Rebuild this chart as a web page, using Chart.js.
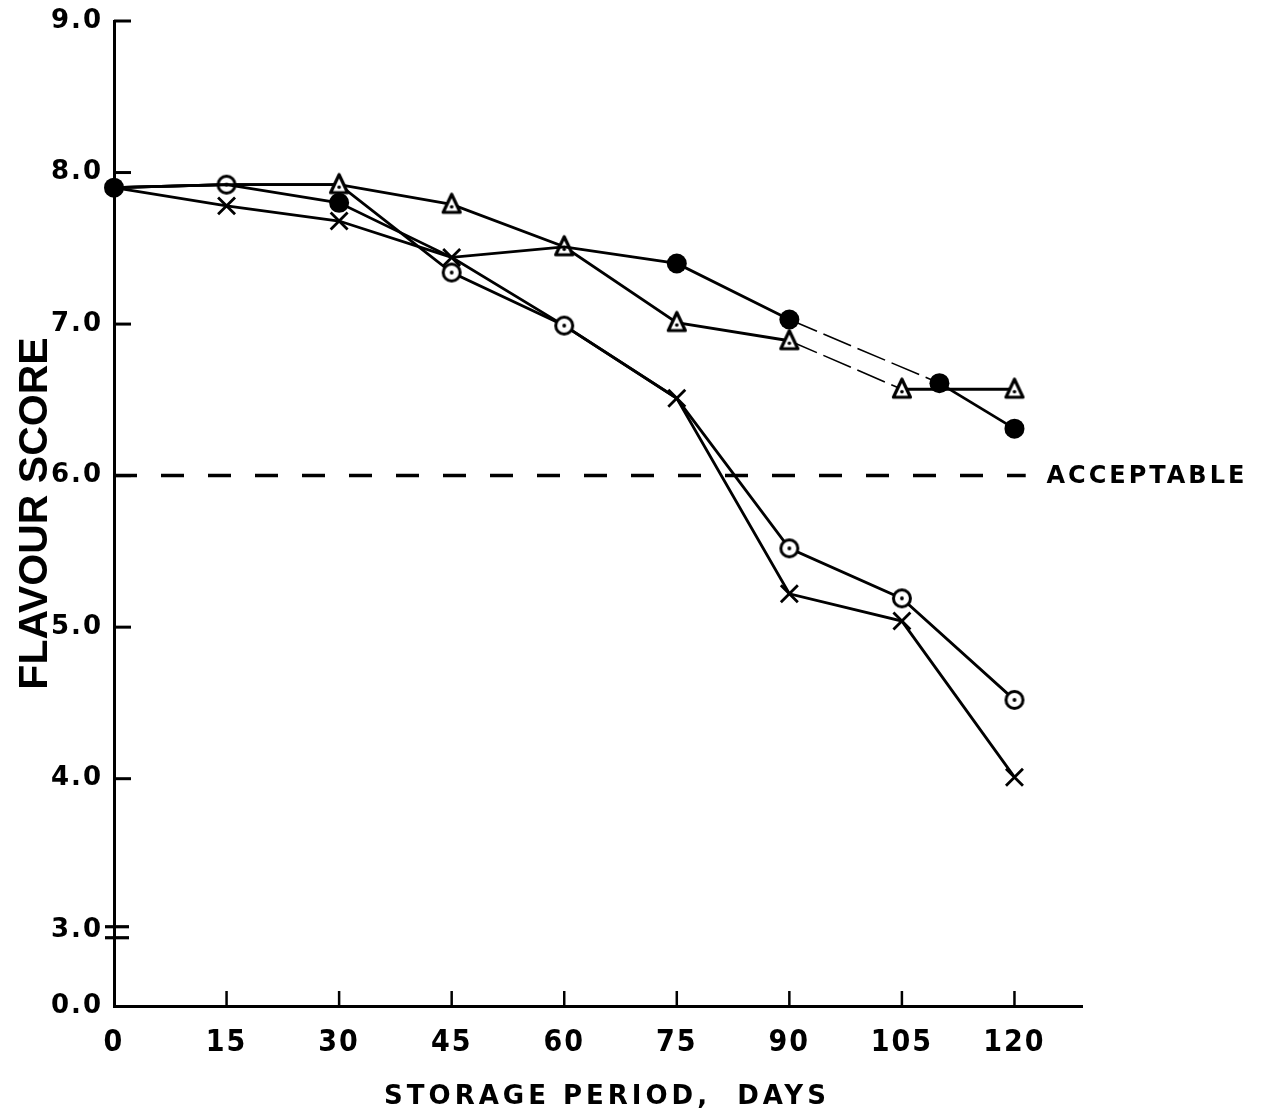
<!DOCTYPE html>
<html>
<head>
<meta charset="utf-8">
<title>Flavour score during storage</title>
<script src="https://cdn.jsdelivr.net/npm/chart.js@4.4.1/dist/chart.umd.min.js"></script>
<style>
  html, body { margin: 0; padding: 0; background: #fff; }
  #wrap { width: 1261px; height: 1117px; position: relative; }
</style>
</head>
<body>
<div id="wrap"><canvas id="chart" width="1261" height="1117"></canvas></div>
<script>
// Storage period (days) and flavour scores of the four lots
const storageDays = [0, 15, 30, 45, 60, 75, 90, 105, 120];
const solidCircleDays = [0, 15, 30, 45, 60, 75, 90, 110, 120];
const solidCircleScores = [7.90, 7.92, 7.80, 7.44, 7.51, 7.40, 7.03, 6.61, 6.31];
const openCircleScores  = [7.90, 7.92, 7.92, 7.34, 6.99, 6.51, 5.52, 5.19, 4.52];
const triangleScores    = [7.90, 7.92, 7.92, 7.79, 7.51, 7.01, 6.89, 6.57, 6.57];
const crossScores       = [7.90, 7.78, 7.68, 7.44, 6.99, 6.51, 5.22, 5.04, 4.01];
const acceptableScore = 6.0;
const acceptableLabel = 'ACCEPTABLE';

// Days at which a lot shares its point with another lot (only one symbol is drawn there)
const solidCircleShared = [15, 45, 60];
const openCircleShared  = [0, 30, 75];
const triangleShared    = [0, 15];
const crossShared       = [0, 60];

// Axis ticks; the value axis is broken below 3.0, its origin is labelled 0.0
const xTickValues = [0, 15, 30, 45, 60, 75, 90, 105, 120];
const yTickValues = [2.5, 3, 4, 5, 6, 7, 8, 9];
const yTickLabels = ['0.0', '3.0', '4.0', '5.0', '6.0', '7.0', '8.0', '9.0'];
const xTitle = 'STORAGE PERIOD,  DAYS';
const yTitle = 'FLAVOUR SCORE';

const INK = '#000';

function toPoints(days, scores) {
  return days.map((d, i) => ({ x: d, y: scores[i] }));
}

function makeMarker(size, draw) {
  const c = document.createElement('canvas');
  c.width = size; c.height = size;
  draw(c.getContext('2d'), size / 2);
  return c;
}

// open circle with a centre dot
const ringDot = makeMarker(26, (g, m) => {
  g.beginPath(); g.arc(m, m, 8.5, 0, Math.PI * 2);
  g.fillStyle = '#fff'; g.fill();
  g.lineWidth = 3; g.strokeStyle = INK; g.stroke();
  g.beginPath(); g.arc(m, m, 1.9, 0, Math.PI * 2);
  g.fillStyle = INK; g.fill();
});

// open triangle with a dot inside
const triangleDot = makeMarker(28, (g, m) => {
  g.beginPath();
  g.moveTo(m, m - 10);
  g.lineTo(m + 8.5, m + 8);
  g.lineTo(m - 8.5, m + 8);
  g.closePath();
  g.fillStyle = '#fff'; g.fill();
  g.lineJoin = 'round'; g.lineWidth = 3.2; g.strokeStyle = INK; g.stroke();
  g.beginPath(); g.arc(m, m + 2.5, 1.8, 0, Math.PI * 2);
  g.fillStyle = INK; g.fill();
});

function radiusUnlessShared(shared, r) {
  return ctx => (ctx.raw && shared.includes(ctx.raw.x)) ? 0 : r;
}

function seriesLine(days, scores, shared, marker, extra) {
  return Object.assign({
    data: toPoints(days, scores),
    borderColor: INK,
    borderWidth: 2.8,
    tension: 0,
    fill: false,
    clip: false,
    pointStyle: marker.style,
    pointRadius: radiusUnlessShared(shared, marker.radius),
    pointHoverRadius: radiusUnlessShared(shared, marker.radius),
    pointBackgroundColor: marker.fill,
    pointBorderColor: INK,
    pointBorderWidth: marker.border
  }, extra || {});
}

// faint stretches of the hand-drawn curves beyond 90 days
const faintAfter90 = {
  borderWidth: ctx => ctx.p0.parsed.x === 90 ? 1.6 : undefined,
  borderDash: ctx => ctx.p0.parsed.x === 90 ? [30, 7] : undefined
};

const datasets = [
  {
    label: 'acceptable',
    data: [{ x: 0, y: acceptableScore }, { x: 121.5, y: acceptableScore }],
    borderColor: INK,
    borderWidth: 3.5,
    borderDash: [23, 24],
    pointRadius: 0,
    pointHoverRadius: 0,
    clip: false,
    order: 5
  },
  seriesLine(storageDays, crossScores, crossShared,
    { style: 'crossRot', radius: 12, fill: INK, border: 2.8 }, { label: 'x', order: 4 }),
  seriesLine(storageDays, openCircleScores, openCircleShared,
    { style: ringDot, radius: 9, fill: '#fff', border: 0 }, { label: 'open circle', order: 3 }),
  seriesLine(storageDays, triangleScores, triangleShared,
    { style: triangleDot, radius: 9, fill: '#fff', border: 0 },
    { label: 'triangle', order: 2, segment: faintAfter90 }),
  seriesLine(solidCircleDays, solidCircleScores, solidCircleShared,
    { style: 'circle', radius: 10, fill: INK, border: 0 },
    { label: 'solid circle', order: 1, segment: faintAfter90 })
];

// inward tick marks, the axis break and the free text of the figure
const figureDecor = {
  id: 'figureDecor',
  beforeDraw(chart) {
    chart.ctx.letterSpacing = '2px';
  },
  afterDraw(chart) {
    const { ctx, chartArea } = chart;
    const xs = chart.scales.x, ys = chart.scales.y;
    ctx.save();
    ctx.strokeStyle = INK;
    ctx.fillStyle = INK;
    ctx.lineCap = 'butt';

    // value ticks pointing into the plot
    ctx.lineWidth = 3;
    yTickValues.filter(v => v > 3).forEach(v => {
      const y = ys.getPixelForValue(v);
      ctx.beginPath();
      ctx.moveTo(chartArea.left, y);
      ctx.lineTo(chartArea.left + 17, y);
      ctx.stroke();
    });
    // day ticks pointing up
    ctx.lineWidth = 2.5;
    xTickValues.filter(v => v > 0).forEach(v => {
      const x = xs.getPixelForValue(v);
      ctx.beginPath();
      ctx.moveTo(x, chartArea.bottom);
      ctx.lineTo(x, chartArea.bottom - 15);
      ctx.stroke();
    });
    // axis break at 3.0
    const yb = ys.getPixelForValue(3) + 2;
    ctx.lineWidth = 3.2;
    [-5.5, 5.5].forEach(d => {
      ctx.beginPath();
      ctx.moveTo(chartArea.left - 9, yb + d);
      ctx.lineTo(chartArea.left + 15, yb + d);
      ctx.stroke();
    });

    // reference line label
    ctx.letterSpacing = '3px';
    ctx.font = 'bold 24px "DejaVu Sans", sans-serif';
    ctx.textAlign = 'left';
    ctx.textBaseline = 'middle';
    ctx.fillText(acceptableLabel, xs.getPixelForValue(120) + 32, ys.getPixelForValue(acceptableScore) + 1);

    // axis titles
    ctx.letterSpacing = '4px';
    ctx.font = 'bold 26px "DejaVu Sans", sans-serif';
    ctx.textAlign = 'center';
    ctx.fillText(xTitle, 607, 1097);

    ctx.letterSpacing = '0px';
    ctx.translate(36, (chartArea.top + chartArea.bottom) / 2);
    ctx.rotate(-Math.PI / 2);
    ctx.font = 'bold 41px "Liberation Sans", Arial, sans-serif';
    ctx.fillText(yTitle, 0, 0);
    ctx.restore();
  }
};

new Chart(document.getElementById('chart'), {
  type: 'line',
  data: { datasets },
  plugins: [figureDecor],
  options: {
    responsive: false,
    maintainAspectRatio: false,
    animation: false,
    devicePixelRatio: 1,
    layout: { padding: { left: 0, top: 21, right: 179, bottom: 0 } },
    plugins: { legend: { display: false }, tooltip: { enabled: false } },
    scales: {
      x: {
        type: 'linear',
        min: 0,
        max: 129,
        afterBuildTicks: s => { s.ticks = xTickValues.map(v => ({ value: v })); },
        afterFit: s => { s.height = 111; s.paddingLeft = 0; s.paddingRight = 0; },
        grid: { display: false, drawTicks: false },
        border: { display: true, color: INK, width: 3 },
        ticks: {
          autoSkip: false,
          maxRotation: 0,
          padding: 19,
          color: INK,
          font: { family: '"DejaVu Sans Condensed", "DejaVu Sans", sans-serif', weight: 'bold', size: 30 }
        }
      },
      y: {
        type: 'linear',
        min: 2.5,
        max: 9,
        afterBuildTicks: s => { s.ticks = yTickValues.map(v => ({ value: v })); },
        afterFit: s => { s.width = 114; s.paddingTop = 0; s.paddingBottom = 0; },
        grid: { display: false, drawTicks: false },
        border: { display: true, color: INK, width: 3 },
        ticks: {
          autoSkip: false,
          padding: 11,
          color: INK,
          font: { family: '"DejaVu Sans", sans-serif', weight: 'bold', size: 26 },
          callback: v => yTickLabels[yTickValues.indexOf(v)]
        }
      }
    }
  }
});
</script>
</body>
</html>
